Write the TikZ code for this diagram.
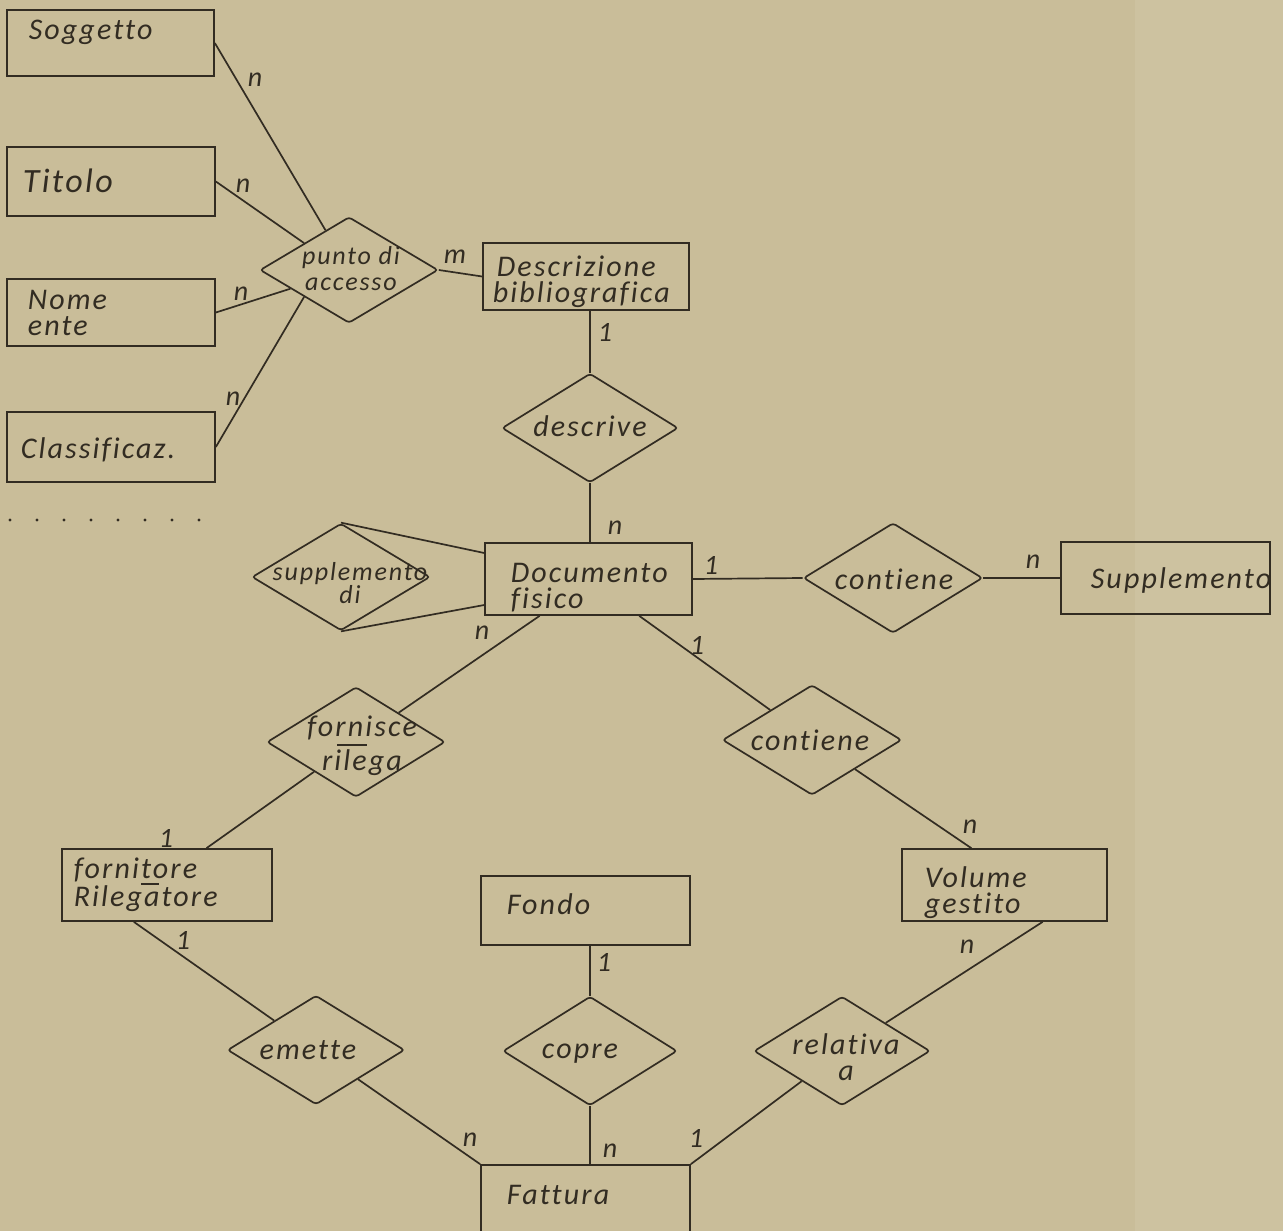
\documentclass[tikz,border=0pt]{standalone}
\usepackage{fontspec}
\newfontfamily\hand{Carlito}[LetterSpace=7,Ligatures=NoCommon]
\usetikzlibrary{shapes.geometric}
\definecolor{paper}{RGB}{201,189,153}
\definecolor{paperlight}{RGB}{205,194,160}
\definecolor{ink}{RGB}{50,44,34}
\begin{document}
\begin{tikzpicture}[x=1pt,y=-1pt,color=ink,line width=1.7pt,
  entity/.style={draw=ink, rectangle, inner sep=0pt},
  rel/.style={draw=ink, diamond, inner sep=0pt, rounded corners=3pt},
  txt/.style={font=\hand\itshape\fontsize{30}{26}\selectfont, inner sep=0pt, anchor=base west, align=left},
  dtxt/.style={font=\hand\itshape\fontsize{30}{30}\selectfont, inner sep=0pt, anchor=base, align=center},
  stxt/.style={font=\hand\itshape\fontsize{26}{26}\selectfont, inner sep=0pt, anchor=base, align=center},
  card/.style={font=\hand\itshape\fontsize{28}{28}\selectfont, inner sep=0pt},
  conn/.style={draw=ink, line width=1.7pt}]
\fill[paper] (0,0) rectangle (1283,1231);
\fill[paperlight] (1135,0) rectangle (1283,1231);
\useasboundingbox (0,0) rectangle (1283,1231);
\clip (0,0) rectangle (1283,1231);

% entities
\node[entity, minimum width=207pt, minimum height=66pt] (sog) at (110.5,43) {};
\node[entity, minimum width=208pt, minimum height=69pt] (tit) at (111,181.5) {};
\node[entity, minimum width=208pt, minimum height=67pt] (nome) at (111,312.5) {};
\node[entity, minimum width=208pt, minimum height=70pt] (clas) at (111,447) {};
\node[entity, minimum width=206pt, minimum height=67pt] (descr) at (586,276.5) {};
\node[entity, minimum width=207pt, minimum height=72pt] (doc) at (588.5,579) {};
\node[entity, minimum width=209pt, minimum height=72pt] (suppl) at (1165.5,578) {};
\node[entity, minimum width=210pt, minimum height=72pt] (fbox) at (167,885) {};
\node[entity, minimum width=209pt, minimum height=69pt] (fondo) at (585.5,910.5) {};
\node[entity, minimum width=205pt, minimum height=72pt] (vol) at (1004.5,885) {};
\node[entity, minimum width=209pt, minimum height=84pt] (fatt) at (585.5,1207) {};

% relationships
\node[rel, minimum width=178pt, minimum height=106pt] (pda) at (349,270) {};
\node[rel, minimum width=176pt, minimum height=109pt] (descrive) at (590,428) {};
\node[rel, minimum width=178pt, minimum height=107pt] (supp) at (341,577) {};
\node[rel, minimum width=179pt, minimum height=110pt] (cont1) at (893,578) {};
\node[rel, minimum width=179pt, minimum height=110pt] (cont2) at (812,740) {};
\node[rel, minimum width=178pt, minimum height=110pt] (forn) at (356,742) {};
\node[rel, minimum width=177pt, minimum height=109pt] (emette) at (316,1050) {};
\node[rel, minimum width=174pt, minimum height=109pt] (copre) at (590,1051) {};
\node[rel, minimum width=176pt, minimum height=109pt] (relat) at (842,1051) {};

% entity texts (base anchor = baseline of last line)
\node[txt] (t-sog) at (28,40) {Soggetto};
\node[txt, font=\hand\itshape\fontsize{34}{34}\selectfont] (t-tit) at (22,192) {Titolo};
\node[txt] (t-nome) at (27,335) {Nome\\ente};
\node[txt] (t-clas) at (20,458) {Classificaz.};
\node[txt] (t-descr) at (496,302) {Descrizione\\\hspace*{-4pt}bibliografica};
\node[txt] (t-doc) at (510,608) {Documento\\fisico};
\node[txt] (t-suppl) at (1090,588) {Supplemento};
\node[txt, font=\hand\itshape\fontsize{30}{28}\selectfont] (t-forn) at (73,906) {fornitore\\Rilegatore};
\node[txt] (t-fondo) at (506,914) {Fondo};
\node[txt] (t-vol) at (924,913) {Volume\\gestito};
\node[txt] (t-fatt) at (506,1204) {Fattura};
\draw[line width=1.3pt] (141,884) -- (159,884);

% relationship texts
\node[stxt] (t-pda) at (351,290) {punto di\\accesso};
\node[dtxt] (t-descrive) at (590,436) {descrive};
\node[stxt, font=\hand\itshape\fontsize{26}{23}\selectfont] (t-supp) at (350,603) {supplemento\\di};
\node[dtxt] (t-cont1) at (894,589) {contiene};
\node[dtxt] (t-cont2) at (810,750) {contiene};
\node[dtxt, font=\hand\itshape\fontsize{30}{34}\selectfont] (t-fornd) at (362,770) {fornisce\\rilega};
\draw[line width=1.3pt] (337,745) -- (367,745);
\node[dtxt] (t-emette) at (308,1059) {emette};
\node[dtxt] (t-copre) at (580,1058) {copre};
\node[dtxt, font=\hand\itshape\fontsize{30}{26}\selectfont] (t-relat) at (846,1080) {relativa\\a};

% connectors
\draw[conn] (sog.east) -- (pda);
\draw[conn] (tit.east) -- (pda.north west);
\draw[conn] (nome.east) -- (pda);
\draw[conn] (clas.east) -- (pda.south west);
\draw[conn] (pda.east) -- (descr.west);
\draw[conn] (descrive.north |- descr.south) -- (descrive.north);
\draw[conn] (descrive.south) -- (descrive.south |- doc.north);
\draw[conn] (supp.north) -- (doc.166);
\draw[conn] (supp.south) -- (doc.194);
\draw[conn] (doc.east) -- (cont1.west);
\draw[conn] (cont1.east) -- (suppl.west);
\draw[conn] (doc.-36.6) -- (cont2);
\draw[conn] (cont2) -- (vol.132);
\draw[conn] (doc.217) -- (forn);
\draw[conn] (forn) -- (fbox.43.5);
\draw[conn] (fbox.228) -- (emette);
\draw[conn] (emette) -- (fatt.north west);
\draw[conn] (copre.north |- fondo.south) -- (copre.north);
\draw[conn] (copre.south) -- (copre.south |- fatt.north);
\draw[conn] (vol.-44.6) -- (relat);
\draw[conn] (relat) -- (fatt.north east);

% cardinalities
\node[card] (c-sog) at (255,80) {n};
\node[card] (c-tit) at (243,186) {n};
\node[card] (c-nome) at (241,294) {n};
\node[card] (c-clas) at (233,399) {n};
\node[card] (c-m) at (455,257) {m};
\node[card] (c-descr) at (605,332) {1};
\node[card] (c-doc) at (615,528) {n};
\node[card] (c-c1a) at (711,565) {1};
\node[card] (c-c1b) at (1033,562) {n};
\node[card] (c-c2a) at (697,645) {1};
\node[card] (c-c2b) at (970,827) {n};
\node[card] (c-fa) at (482,633) {n};
\node[card] (c-fb) at (166,838) {1};
\node[card] (c-ea) at (183,940) {1};
\node[card] (c-eb) at (470,1140) {n};
\node[card] (c-ca) at (604,962) {1};
\node[card] (c-cb) at (610,1151) {n};
\node[card] (c-ra) at (967,947) {n};
\node[card] (c-rb) at (696,1138) {1};

% dots
\foreach \i in {0,...,7} \fill (10+27*\i,520) circle (1.7pt);
\end{tikzpicture}
\end{document}
